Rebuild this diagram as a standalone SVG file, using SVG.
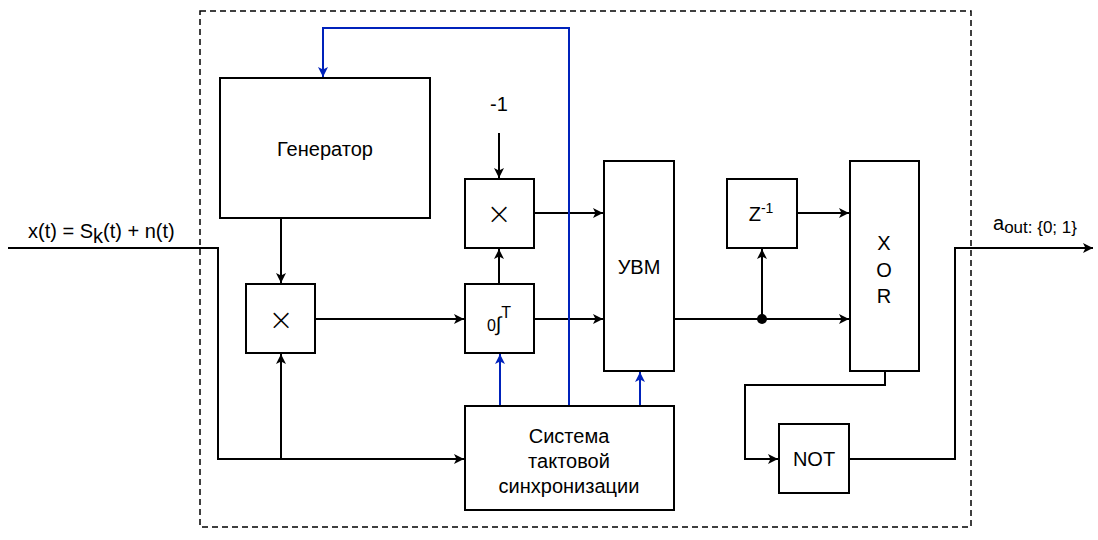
<svg xmlns="http://www.w3.org/2000/svg" width="1098" height="540" viewBox="0 0 1098 540">
<defs>
<style>
.b{fill:#fff;stroke:#000;stroke-width:2}
.t{font-family:"Liberation Sans",Arial,sans-serif;font-size:20px;fill:#000;text-anchor:middle}
.l{font-family:"Liberation Sans",Arial,sans-serif;font-size:20px;fill:#000;text-anchor:start}
.x{font-family:"DejaVu Sans",sans-serif;font-size:30px;font-weight:200;fill:#000;text-anchor:middle}
.c{fill:none;stroke:#000;stroke-width:2}
.u{fill:none;stroke:#0022bb;stroke-width:2}
</style>
<marker id="a" viewBox="0 0 10 10" refX="10" refY="5" markerWidth="10" markerHeight="10" markerUnits="userSpaceOnUse" orient="auto"><path d="M0,0 L10,5 L0,10 L2.5,5 Z" fill="#000"/></marker>
<marker id="ab" viewBox="0 0 10 10" refX="10" refY="5" markerWidth="10" markerHeight="10" markerUnits="userSpaceOnUse" orient="auto"><path d="M0,0 L10,5 L0,10 L2.5,5 Z" fill="#0022bb"/></marker>
</defs>
<rect x="200" y="11" width="771" height="516" fill="none" stroke="#000" stroke-width="1.5" stroke-dasharray="6,4"/>
<g id="connectors">
<path class="c" d="M8,248 H218 V459 H464" marker-end="url(#a)"/>
<path class="c" d="M281,459 V354" marker-end="url(#a)"/>
<path class="c" d="M281,218 V283" marker-end="url(#a)"/>
<path class="c" d="M315,319 H464" marker-end="url(#a)"/>
<path class="c" d="M499,284 V249" marker-end="url(#a)"/>
<path class="c" d="M499,133 V178" marker-end="url(#a)"/>
<path class="c" d="M534,213 H603" marker-end="url(#a)"/>
<path class="c" d="M534,319 H603" marker-end="url(#a)"/>
<path class="c" d="M674,319 H849" marker-end="url(#a)"/>
<path class="c" d="M762,319 V249" marker-end="url(#a)"/>
<circle cx="762" cy="319" r="5" fill="#000"/>
<path class="c" d="M797,213 H849" marker-end="url(#a)"/>
<path class="c" d="M885,371 V385 H745 V459 H778" marker-end="url(#a)"/>
<path class="c" d="M849,459 H955 V248 H1093" marker-end="url(#a)"/>
<path class="u" d="M500,406 V354" marker-end="url(#ab)"/>
<path class="u" d="M640,406 V372" marker-end="url(#ab)"/>
<path class="u" d="M569,406 V28 H323 V77" marker-end="url(#ab)"/>
</g>
<g id="generator"><rect class="b" x="220" y="78" width="210" height="140"/><text class="t" x="325" y="156">Генератор</text></g>
<g id="mult1"><rect class="b" x="246" y="284" width="69" height="69"/><text class="x" x="281" y="330">×</text></g>
<g id="mult2"><rect class="b" x="465" y="179" width="69" height="69"/><text class="x" x="499" y="224">×</text></g>
<g id="integrator"><rect class="b" x="465" y="284" width="69" height="69"/><text class="t" x="499" y="331" style="font-size:16px">0<tspan style="font-size:20px">∫</tspan><tspan dy="-13">T</tspan></text></g>
<g id="uvm"><rect class="b" x="604" y="161" width="70" height="210"/><text class="t" x="639" y="274">УВМ</text></g>
<g id="z"><rect class="b" x="727" y="179" width="70" height="69"/><text class="t" x="761" y="221">Z<tspan style="font-size:14px" dy="-8">-1</tspan></text></g>
<g id="xor"><rect class="b" x="850" y="161" width="69" height="210"/><text class="t" x="884" y="250">X</text><text class="t" x="884" y="277">O</text><text class="t" x="884" y="303">R</text></g>
<g id="not"><rect class="b" x="779" y="424" width="70" height="69"/><text class="t" x="814" y="466">NOT</text></g>
<g id="sync"><rect class="b" x="465" y="406" width="209" height="104"/><text class="t" x="569" y="443">Система</text><text class="t" x="569" y="468">тактовой</text><text class="t" x="569" y="493">синхронизации</text></g>
<text class="l" x="28" y="238">x(t) = S<tspan dy="5">k</tspan><tspan dy="-5">(t) + n(t)</tspan></text>
<text class="l" x="993" y="230">a<tspan style="font-size:17px" dy="3">out: {0; 1}</tspan></text>
<text class="t" x="499" y="111">-1</text>
</svg>
